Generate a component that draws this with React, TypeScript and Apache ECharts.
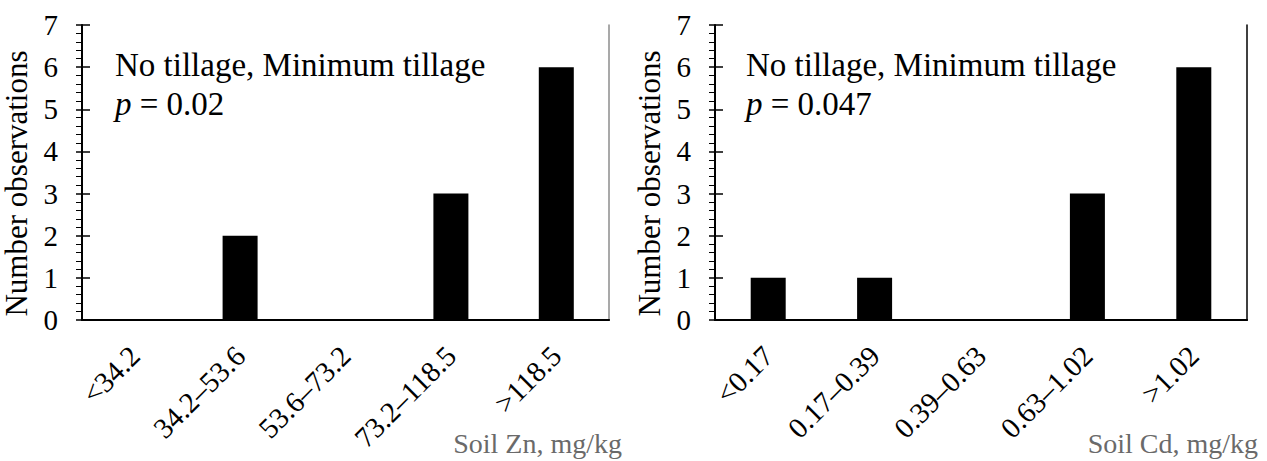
import React, { useEffect, useRef } from "react";
import * as echarts from "echarts";

const zincCategories = ["<34.2", "34.2–53.6", "53.6–73.2", "73.2–118.5", ">118.5"];
const zincCounts = [0, 2, 0, 3, 6];
const cadmiumCategories = ["<0.17", "0.17–0.39", "0.39–0.63", "0.63–1.02", ">1.02"];
const cadmiumCounts = [1, 1, 0, 3, 6];
const yMin = 0;
const yMax = 7;
const yStep = 1;
const panelTitle = "No tillage, Minimum tillage";
const pValues = ["0.02", "0.047"];
const xNames = ["Soil Zn, mg/kg", "Soil Cd, mg/kg"];
const yName = "Number observations";

const FONT = "Liberation Serif";

export default function App() {
  const ref = useRef<HTMLDivElement>(null);
  useEffect(() => {
    if (!ref.current) return;
    const chart = echarts.init(ref.current, undefined, { renderer: "svg" });
    const grids = [
      { left: 82, right: 1267 - 609, top: 25, bottom: 461 - 320 },
      { left: 715, right: 1267 - 1247, top: 25, bottom: 461 - 320 },
    ];
    const cats = [zincCategories, cadmiumCategories];
    const vals = [zincCounts, cadmiumCounts];
    const rightColors = ["#8c8c8c", "#000"];
    const xAxis: any[] = [];
    const yAxis: any[] = [];
    const series: any[] = [];
    for (let i = 0; i < 2; i++) {
      xAxis.push({
        type: "category",
        gridIndex: i,
        data: cats[i],
        position: "bottom",
        axisLine: { show: true, lineStyle: { color: "#000", width: 2 } },
        axisTick: { show: false },
        axisLabel: {
          interval: 0,
          rotate: 45,
          margin: 31,
          fontSize: 29,
          fontFamily: FONT,
          color: "#000",
        },
        splitLine: { show: false },
      });
      xAxis.push({
        type: "category",
        gridIndex: i,
        data: cats[i],
        position: "top",
        axisLine: { show: true, lineStyle: { color: "#000", width: 1.5 } },
        axisTick: { show: false },
        axisLabel: { show: false },
        splitLine: { show: false },
      });
      yAxis.push({
        type: "value",
        gridIndex: i,
        min: yMin,
        max: yMax,
        interval: yStep,
        position: "left",
        axisLine: { show: true, lineStyle: { color: "#000", width: 2 } },
        axisTick: { show: true, length: 6, lineStyle: { color: "#000", width: 1.5 } },
        minorTick: { show: true, splitNumber: 5, length: 6, lineStyle: { color: "#000", width: 1 } },
        splitLine: { show: false },
        axisLabel: { fontSize: 29, fontFamily: FONT, color: "#000", margin: 24 },
        name: yName,
        nameLocation: "middle",
        nameGap: 50,
        nameRotate: 90,
        nameTextStyle: { fontSize: 31, fontFamily: FONT, color: "#000", padding: [0, 22, 0, 0] },
      });
      yAxis.push({
        type: "value",
        gridIndex: i,
        min: yMin,
        max: yMax,
        interval: yStep,
        position: "left",
        axisLine: { show: false },
        axisTick: { show: true, inside: true, length: 8, lineStyle: { color: "#000", width: 1.5 } },
        axisLabel: { show: false },
        splitLine: { show: false },
      });
      yAxis.push({
        type: "value",
        gridIndex: i,
        min: yMin,
        max: yMax,
        interval: yStep,
        position: "right",
        axisLine: { show: true, lineStyle: { color: rightColors[i], width: 1.5 } },
        axisTick: { show: false },
        axisLabel: { show: false },
        splitLine: { show: false },
      });
      series.push({
        type: "bar",
        xAxisIndex: 2 * i,
        yAxisIndex: 3 * i,
        data: vals[i],
        barWidth: 35,
        itemStyle: { color: "#000" },
      });
    }
    const textX = [115, 746];
    const nameRight = [622, 1258];
    const rich = {
      n: { fontSize: 33, fontFamily: FONT, fontStyle: "normal", fill: "#000", color: "#000" },
      i: { fontSize: 33, fontFamily: FONT, fontStyle: "italic", fill: "#000", color: "#000" },
      g: { fontSize: 28, fontFamily: FONT, fontStyle: "normal", fill: "#6a6a6a", color: "#6a6a6a" },
    };
    const graphic: any[] = [];
    for (let i = 0; i < 2; i++) {
      graphic.push({
        type: "text",
        x: textX[i],
        y: 65,
        style: {
          text: "{n|" + panelTitle + "}",
          fontSize: 33,
          fontFamily: FONT,
          fill: "#000",
          verticalAlign: "middle",
          rich,
        },
      });
      graphic.push({
        type: "text",
        x: textX[i],
        y: 104,
        style: {
          text: "{i|p}{n| = " + pValues[i] + "}",
          fontSize: 33,
          fontFamily: FONT,
          fill: "#000",
          verticalAlign: "middle",
          rich,
        },
      });
      graphic.push({
        type: "text",
        x: nameRight[i],
        y: 443,
        style: {
          text: "{g|" + xNames[i] + "}",
          fontSize: 28,
          fontFamily: FONT,
          fill: "#6a6a6a",
          align: "right",
          verticalAlign: "middle",
          rich,
        },
      });
    }
    chart.setOption({
      animation: false,
      backgroundColor: "#fff",
      grid: grids,
      xAxis,
      yAxis,
      series,
      graphic,
    });
    return () => chart.dispose();
  }, []);
  return (
    <div
      ref={ref}
      style={{ position: "absolute", left: 0, top: 0, width: 1267, height: 461 }}
    />
  );
}
